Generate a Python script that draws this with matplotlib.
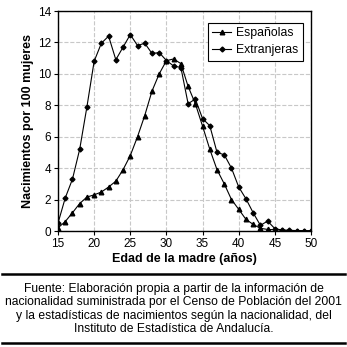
import matplotlib
matplotlib.use("Agg")
import matplotlib.pyplot as plt
from matplotlib.lines import Line2D

plt.rcParams['font.family'] = ['Liberation Sans', 'DejaVu Sans']

edades = list(range(15, 51))

# tasas por 100 mujeres
espanolas = [0.2, 0.6, 1.16, 1.75, 2.16, 2.3, 2.48, 2.8, 3.17, 3.9, 4.8, 6.0,
             7.35, 8.9, 10.0, 10.84, 10.95, 10.65, 9.2, 8.1, 6.67, 5.2, 3.9, 3.0,
             2.0, 1.38, 0.74, 0.42, 0.17, 0.1, 0.08, 0.05, 0.03, 0.02, 0.01, 0.01]
extranjeras = [0.5, 2.1, 3.3, 5.2, 7.9, 10.8, 11.95, 12.4, 10.9, 11.7, 12.5, 11.8,
               11.95, 11.3, 11.35, 10.85, 10.5, 10.4, 8.1, 8.4, 7.15, 6.7, 5.0, 4.85,
               4.0, 2.8, 2.05, 1.16, 0.36, 0.63, 0.15, 0.06, 0.04, 0.03, 0.02, 0.02]

xticks = [15, 20, 25, 30, 35, 40, 45, 50]
yticks = [0, 2, 4, 6, 8, 10, 12, 14]

fuente = ("Fuente: Elaboración propia a partir de la información de\n"
          "nacionalidad suministrada por el Censo de Población del 2001\n"
          "y la estadísticas de nacimientos según la nacionalidad, del\n"
          "Instituto de Estadística de Andalucía.")

fig = plt.figure(figsize=(3.47, 3.47), dpi=100)
ax = fig.add_axes([58 / 347, 1 - 231 / 347, 253 / 347, 220 / 347])

ax.plot(edades, espanolas, color='black', lw=0.8, marker='^', ms=3.3,
        label='Españolas')
ax.plot(edades, extranjeras, color='black', lw=0.8, marker='D', ms=2.5,
        label='Extranjeras')

ax.set_xlim(15, 50)
ax.set_ylim(0, 14)
ax.set_xticks(xticks)
ax.set_yticks(yticks)
ax.tick_params(labelsize=8.5, length=3, width=0.8, pad=2)
ax.grid(True, color='#c8c8c8', ls='--', lw=0.8)
ax.set_axisbelow(True)
for s in ax.spines.values():
    s.set_linewidth(1.0)

ax.set_xlabel('Edad de la madre (años)', fontsize=9, fontweight='bold', labelpad=2)
ax.set_ylabel('Nacimientos por 100 mujeres', fontsize=9, fontweight='bold', labelpad=3)

leg = ax.legend(loc='upper right', fontsize=8.8, fancybox=False, framealpha=1,
                edgecolor='black', borderpad=0.35, handlelength=1.6,
                handletextpad=0.4, labelspacing=0.4, borderaxespad=0,
                bbox_to_anchor=(0.968, 0.945))
leg.get_frame().set_linewidth(0.8)

fig.add_artist(Line2D([0.005, 0.995], [1 - 274 / 347, 1 - 274 / 347],
                      color='black', lw=1.8))
fig.add_artist(Line2D([0.005, 0.995], [1 - 343 / 347, 1 - 343 / 347],
                      color='black', lw=1.8))
fig.text(0.5, 1 - 309 / 347, fuente, ha='center', va='center', fontsize=8.7,
         linespacing=1.15)

fig.savefig('out.png', dpi=100)
